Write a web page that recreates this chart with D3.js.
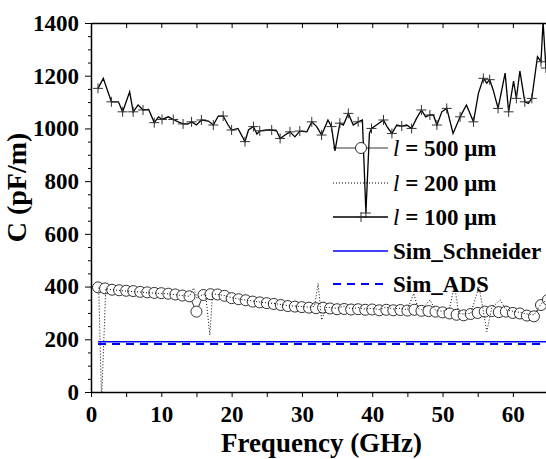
<!DOCTYPE html>
<html lang="en">
<head>
  <meta charset="UTF-8">
  <title>C vs Frequency</title>
  <script src="https://d3js.org/d3.v7.min.js"></script>
  <style>
    body { margin: 0; background: #fff; }
    .lbl { font-family: "Liberation Serif"; font-weight: bold; fill: #000; }
  </style>
</head>
<body>
  <div id="chart"></div>
  <script>
    // l = 100 um (solid line with + markers)
    const freq100 = [1.0, 1.75, 2.9, 3.9, 4.5, 5.5, 6.0, 6.7, 7.4, 8.2, 9.0, 9.6, 10.1, 11.0, 11.7, 12.4, 13.1, 13.8, 14.3, 15.0,
      15.7, 16.7, 17.4, 18.1, 18.8, 19.5, 20.0, 20.9, 21.9, 22.4, 23.1, 23.6, 24.0, 25.0, 25.7, 26.4, 26.9, 27.6, 28.3, 29.0,
      29.7, 30.7, 31.4, 32.1, 32.8, 33.7, 34.2, 34.7, 35.4, 35.9, 36.6, 37.3, 38.0, 38.6, 39.1, 39.6, 39.9, 40.6, 41.6, 42.1,
      42.8, 43.5, 44.2, 44.9, 45.6, 46.3, 47.0, 47.6, 48.2, 48.7, 49.2, 49.9, 50.6, 51.5, 52.5, 53.4, 54.4, 55.1, 55.8, 56.3,
      56.7, 57.2, 57.9, 58.9, 59.4, 60.1, 60.5, 61.0, 61.7, 62.2, 62.7, 63.5, 64.0, 64.3, 64.7];
    const c100 = [1152, 1190, 1101, 1101, 1063, 1139, 1063, 1089, 1070, 1072, 1022, 1044, 1034, 1044, 1034, 1025, 1017, 1017, 1025, 1013,
      1032, 1028, 1013, 1047, 1047, 1013, 994, 1000, 950, 994, 1007, 979, 991, 994, 994, 991, 962, 975, 987, 968,
      990, 987, 1025, 1007, 975, 1032, 1007, 915, 1020, 1013, 1057, 1013, 1025, 1032, 679, 982, 1000, 1013, 1032, 1007,
      981, 1013, 1009, 1013, 1000, 1038, 1070, 1044, 1051, 1051, 1013, 1063, 1076, 981, 1044, 1089, 1025, 1133, 1190, 1172,
      1185, 1146, 1076, 1210, 1063, 1180, 1114, 1218, 1101, 1095, 1114, 1272, 1253, 1405, 1229];

    // l = 200 um (dotted line)
    const freq200 = [1.1, 1.5, 2.1, 3, 4, 5, 6, 7, 8, 9, 10, 11, 12, 13, 14, 14.6, 15.1, 15.6, 16.3, 16.9,
      17.3, 18, 19, 20, 21, 22, 23, 24, 25, 26, 27, 28, 29, 30, 31, 31.8, 32.3, 32.8, 33.5, 34,
      35, 36, 37, 38, 39, 40, 41, 42, 43, 44, 45, 45.9, 46.5, 47, 48.2, 49, 50, 51, 51.7, 52.3,
      53, 54, 55.2, 56.3, 57, 58.2, 59, 60, 61, 62, 63, 64, 65];
    const c200 = [396, -30, 392, 388, 385, 383, 381, 379, 377, 375, 374, 372, 369, 366, 363, 395, 355, 366, 372, 216,
      373, 370, 366, 358, 353, 349, 345, 341, 338, 336, 332, 328, 326, 324, 322, 325, 412, 273, 322, 320,
      318, 326, 316, 320, 315, 318, 313, 322, 315, 318, 312, 374, 318, 312, 349, 310, 306, 318, 406, 298,
      296, 298, 399, 229, 320, 349, 312, 306, 302, 296, 292, 334, 352];

    // l = 500 um (open circles), one point per GHz from 1 to 65
    const freq500 = d3.range(1, 66);
    const c500 = [397, 393, 388, 386, 384, 383, 380, 378, 376, 375, 373, 370, 366, 363, 305, 368, 371, 370, 365, 356,
      352, 348, 343, 340, 337, 334, 330, 326, 324, 322, 320, 318, 320, 317, 314, 315, 313, 314, 312, 313,
      310, 312, 310, 311, 309, 312, 308, 307, 305, 302, 298, 293, 291, 296, 300, 305, 307, 303, 305, 300,
      298, 290, 287, 330, 350];

    // simulations (constant)
    const simFreq = [1, 65];
    const simSchneider = [191, 191];
    const simADS = [182, 182];

    const xTicks = [0, 10, 20, 30, 40, 50, 60];
    const yTicks = [0, 200, 400, 600, 800, 1000, 1200, 1400];

    const margin = { top: 23, right: -2, bottom: 67, left: 91 },
      width = 546 - margin.left - margin.right,
      height = 459 - margin.top - margin.bottom;

    const root = d3.select("#chart")
      .append("svg")
      .attr("width", 546)
      .attr("height", 459);

    const svg = root.append("g")
      .attr("transform", `translate(${margin.left},${margin.top})`);

    const x = d3.scaleLinear().domain([0, 65]).range([0, width]);
    const y = d3.scaleLinear().domain([0, 1400]).range([height, 0]);

    svg.append("clipPath").attr("id", "clip")
      .append("rect").attr("width", width).attr("height", height);

    const plot = svg.append("g").attr("clip-path", "url(#clip)");

    const line = d3.line().x(d => x(d[0])).y(d => y(d[1]));
    const zip = (a, b) => a.map((v, i) => [v, b[i]]);

    // l = 500 um
    const d500 = zip(freq500, c500);
    plot.append("path").datum(d500)
      .attr("d", line).attr("fill", "none").attr("stroke", "#000").attr("stroke-width", 0.8);
    plot.selectAll("circle.c500").data(d500).enter().append("circle")
      .attr("class", "c500")
      .attr("cx", d => x(d[0])).attr("cy", d => y(d[1])).attr("r", 5.5)
      .attr("fill", "#fff").attr("stroke", "#000").attr("stroke-width", 0.8);

    // l = 200 um
    plot.append("path").datum(zip(freq200, c200))
      .attr("d", line).attr("fill", "none").attr("stroke", "#000").attr("stroke-width", 1)
      .attr("stroke-dasharray", "1,2");

    // simulations
    plot.append("path").datum(zip(simFreq, simSchneider))
      .attr("d", line).attr("fill", "none").attr("stroke", "#0000ff").attr("stroke-width", 1.5);
    plot.append("path").datum(zip(simFreq, simADS))
      .attr("d", line).attr("fill", "none").attr("stroke", "#0000ff").attr("stroke-width", 2)
      .attr("stroke-dasharray", "8,6");

    // l = 100 um
    const d100 = zip(freq100, c100);
    plot.append("path").datum(d100)
      .attr("d", line).attr("fill", "none").attr("stroke", "#000").attr("stroke-width", 1.3);
    plot.selectAll("path.p100").data(d100.filter((d, i) => i % 2 === 0)).enter().append("path")
      .attr("class", "p100")
      .attr("transform", d => `translate(${x(d[0])},${y(d[1])})`)
      .attr("d", "M-5,0H5M0,-5V5")
      .attr("stroke", "#333").attr("stroke-width", 1);

    // axes
    const xAxis = svg.append("g").attr("transform", `translate(0,${height})`)
      .call(d3.axisBottom(x).tickValues(d3.range(0, 66, 5)).tickSize(5).tickSizeOuter(0)
        .tickFormat(d => xTicks.includes(d) ? d : ""));
    const xTop = svg.append("g")
      .call(d3.axisBottom(x).tickValues(d3.range(0, 66, 5)).tickSize(5).tickSizeOuter(0).tickFormat(""));
    const yAxis = svg.append("g")
      .call(d3.axisLeft(y).tickValues(d3.range(0, 1401, 50)).tickSize(3).tickSizeOuter(0)
        .tickFormat(d => yTicks.includes(d) ? d : ""));
    yAxis.selectAll(".tick").filter(d => yTicks.includes(d)).select("line").attr("x2", -6);

    [xAxis, xTop, yAxis].forEach(a => {
      a.attr("font-family", null).attr("font-size", null);
      a.select(".domain").attr("stroke-width", 1.5);
      a.selectAll("text").attr("class", "lbl").style("font-size", "23px");
    });
    xAxis.selectAll("text").attr("dy", "0.95em");
    yAxis.selectAll("text").attr("x", -12);

    // axis titles
    svg.append("text").attr("class", "lbl")
      .attr("x", width / 2 + 2).attr("y", height + 60)
      .attr("text-anchor", "middle").style("font-size", "27px")
      .text("Frequency (GHz)");
    svg.append("text").attr("class", "lbl")
      .attr("transform", `translate(${-65},${height / 2 - 20}) rotate(-90)`)
      .attr("text-anchor", "middle").style("font-size", "28px")
      .text("C (pF/m)");

    // legend
    const legendY = [148, 183, 217, 251, 284];
    const legend = root.append("g");
    const lx0 = 333, lx1 = 388;
    const names = ["500", "200", "100"];
    names.forEach((n, i) => {
      const t = legend.append("text").attr("class", "lbl").attr("x", 393).attr("y", legendY[i] + 8).style("font-size", "23px");
      t.append("tspan").style("font-style", "italic").style("font-weight", "normal").text("l");
      t.append("tspan").text(` = ${n} \u03bcm`);
    });
    legend.append("line").attr("x1", lx0).attr("x2", lx1).attr("y1", legendY[0]).attr("y2", legendY[0])
      .attr("stroke", "#000").attr("stroke-width", 0.8);
    legend.append("circle").attr("cx", 361).attr("cy", legendY[0]).attr("r", 5.5)
      .attr("fill", "#fff").attr("stroke", "#000").attr("stroke-width", 0.8);
    legend.append("line").attr("x1", lx0).attr("x2", lx1).attr("y1", legendY[1]).attr("y2", legendY[1])
      .attr("stroke", "#000").attr("stroke-dasharray", "1,2");
    legend.append("line").attr("x1", lx0).attr("x2", lx1).attr("y1", legendY[2]).attr("y2", legendY[2])
      .attr("stroke", "#000").attr("stroke-width", 1.3);
    legend.append("path").attr("transform", `translate(361,${legendY[2]})`).attr("d", "M-5,0H5M0,-5V5")
      .attr("stroke", "#333");
    legend.append("line").attr("x1", lx0).attr("x2", lx1).attr("y1", legendY[3]).attr("y2", legendY[3])
      .attr("stroke", "#0000ff").attr("stroke-width", 1.5);
    legend.append("text").attr("class", "lbl").attr("x", 393).attr("y", legendY[3] + 8).style("font-size", "23px").text("Sim_Schneider");
    legend.append("line").attr("x1", lx0).attr("x2", lx1).attr("y1", legendY[4]).attr("y2", legendY[4])
      .attr("stroke", "#0000ff").attr("stroke-width", 2).attr("stroke-dasharray", "8,6");
    legend.append("text").attr("class", "lbl").attr("x", 393).attr("y", legendY[4] + 8).style("font-size", "23px").text("Sim_ADS");
  </script>
</body>
</html>
